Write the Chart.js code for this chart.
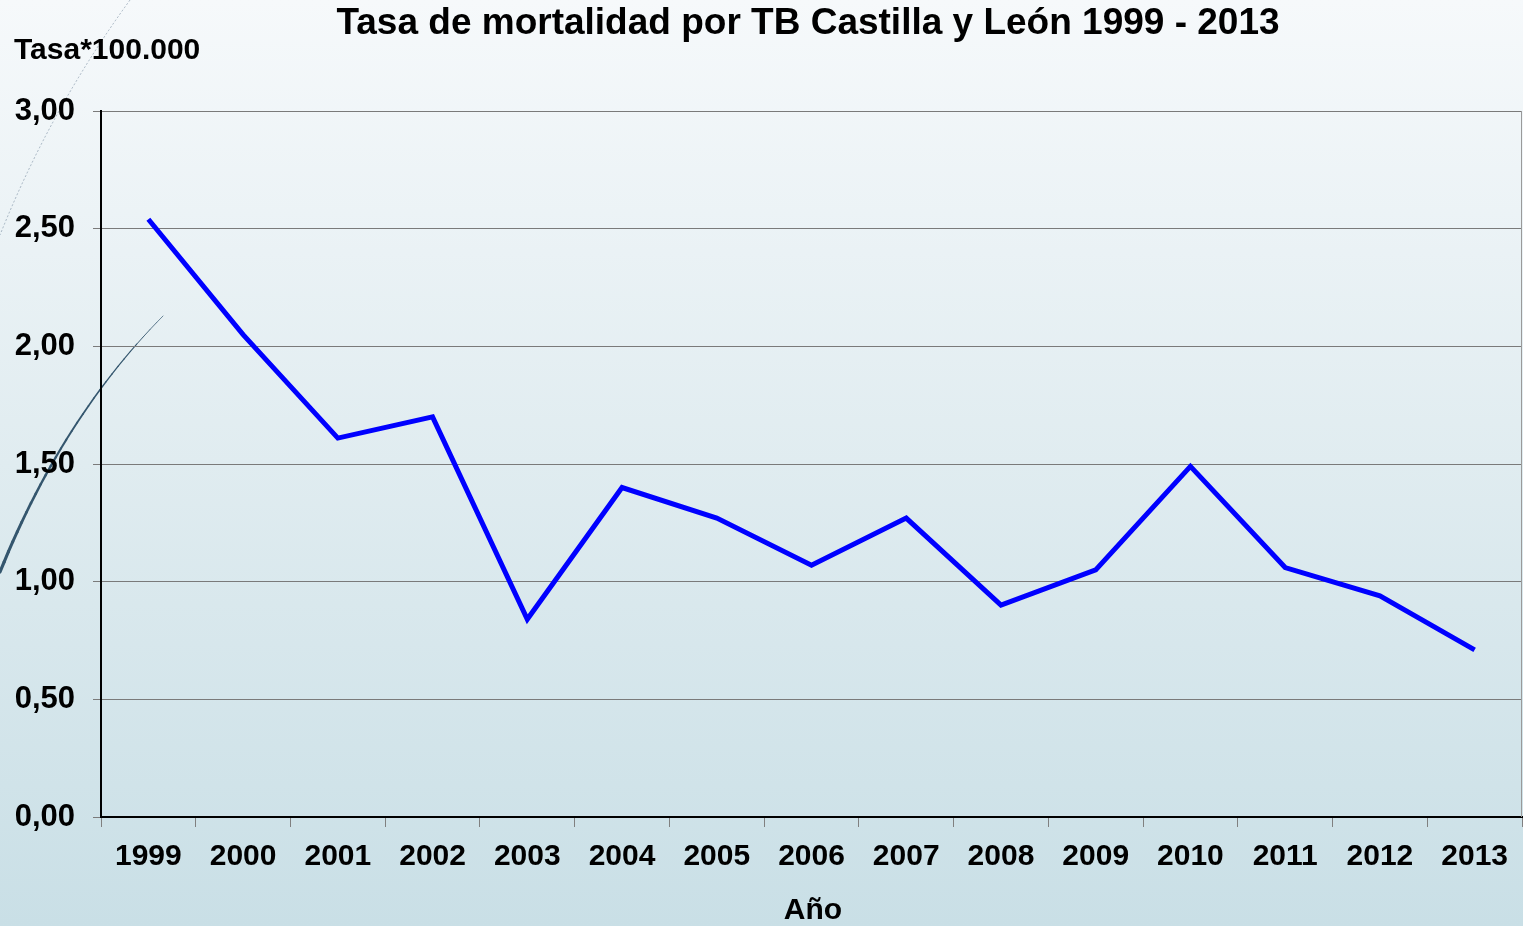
<!DOCTYPE html>
<html>
<head>
<meta charset="utf-8">
<script src="https://cdn.jsdelivr.net/npm/chart.js@4"></script>
<style>
  html, body { margin: 0; padding: 0; overflow: hidden; }
  #wrap { width: 1523px; height: 926px; }
</style>
</head>
<body>
<div id="wrap"><canvas id="tbChart" width="1523" height="926"></canvas></div>
<script>
// Data
const years = ['1999', '2000', '2001', '2002', '2003', '2004', '2005', '2006', '2007', '2008', '2009', '2010', '2011', '2012', '2013'];
const tasa = [2.54, 2.05, 1.61, 1.70, 0.84, 1.40, 1.27, 1.07, 1.27, 0.90, 1.05, 1.49, 1.06, 0.94, 0.71];
const yTicks = [0, 0.5, 1, 1.5, 2, 2.5, 3];

const chartTitle = 'Tasa de mortalidad por TB Castilla y León 1999 - 2013';
const yTitle = 'Tasa*100.000';
const xTitle = 'Año';

const FONT = '"Liberation Sans", Arial, sans-serif';

// background gradient, decorative swoosh and the free-floating texts
const decor = {
    id: 'decor',
    beforeDraw(chart) {
        const ctx = chart.ctx;
        const w = chart.width, h = chart.height;
        ctx.save();
        const g = ctx.createLinearGradient(0, 0, 0, h);
        g.addColorStop(0, '#f6f9fb');
        g.addColorStop(0.5, '#e0ecf0');
        g.addColorStop(1, '#c9dfe6');
        ctx.fillStyle = g;
        ctx.fillRect(0, 0, w, h);

        // faint dashed line top-left
        ctx.strokeStyle = 'rgba(120,140,160,0.6)';
        ctx.lineWidth = 1;
        ctx.setLineDash([2, 2]);
        ctx.beginPath();
        ctx.moveTo(130, 0);
        ctx.quadraticCurveTo(50, 110, 0, 235);
        ctx.stroke();
        ctx.setLineDash([]);

        // dark swoosh, tapering towards its upper end
        ctx.strokeStyle = '#34566e';
        ctx.lineCap = 'round';
        const p0 = [0, 572], p1 = [62, 418], p2 = [163, 316];
        const q = t => [
            (1 - t) * (1 - t) * p0[0] + 2 * (1 - t) * t * p1[0] + t * t * p2[0],
            (1 - t) * (1 - t) * p0[1] + 2 * (1 - t) * t * p1[1] + t * t * p2[1]
        ];
        const n = 30;
        for (let i = 0; i < n; i++) {
            const a = q(i / n), b = q((i + 1) / n);
            ctx.lineWidth = 3.2 - 2.6 * (i / n);
            ctx.beginPath();
            ctx.moveTo(a[0], a[1]);
            ctx.lineTo(b[0], b[1]);
            ctx.stroke();
        }
        ctx.restore();
    },
    afterDraw(chart) {
        const ctx = chart.ctx;
        const a = chart.chartArea;
        ctx.save();
        // right border of plot area
        ctx.strokeStyle = '#9a9a9a';
        ctx.lineWidth = 1;
        ctx.beginPath();
        ctx.moveTo(a.right - 0.5, a.top);
        ctx.lineTo(a.right - 0.5, a.bottom);
        ctx.stroke();

        ctx.fillStyle = '#000';
        ctx.textBaseline = 'middle';
        ctx.font = 'bold 37px ' + FONT;
        ctx.textAlign = 'center';
        ctx.fillText(chartTitle, 808, 24);

        ctx.font = 'bold 30px ' + FONT;
        ctx.textAlign = 'left';
        ctx.fillText(yTitle, 14, 51);

        ctx.textAlign = 'center';
        ctx.fillText(xTitle, 813, 911);
        ctx.restore();
    }
};

new Chart(document.getElementById('tbChart').getContext('2d'), {
    type: 'line',
    data: {
        labels: years,
        datasets: [{
            label: 'Tasa',
            data: tasa,
            borderColor: '#0000ff',
            borderWidth: 5,
            pointRadius: 0,
            tension: 0,
            fill: false
        }]
    },
    options: {
        responsive: false,
        animation: false,
        devicePixelRatio: 1,
        layout: { padding: { top: 111, right: 1, left: 0, bottom: 0 } },
        plugins: {
            legend: { display: false },
            tooltip: { enabled: false }
        },
        scales: {
            x: {
                offset: true,
                grid: {
                    offset: true,
                    drawOnChartArea: false,
                    drawTicks: true,
                    tickLength: 10,
                    color: '#808080'
                },
                border: { color: '#000', width: 2 },
                ticks: {
                    color: '#000',
                    padding: 12,
                    font: { family: FONT, size: 30, weight: 'bold' },
                    maxRotation: 0,
                    autoSkip: false
                },
                afterFit(scale) { scale.height = 109; }
            },
            y: {
                min: 0,
                max: 3,
                afterBuildTicks(scale) { scale.ticks = yTicks.map(v => ({ value: v })); },
                grid: {
                    color: '#7a7a7a',
                    tickLength: 8,
                    lineWidth: 1
                },
                border: { color: '#000', width: 2 },
                ticks: {
                    color: '#000',
                    padding: 18,
                    font: { family: FONT, size: 31, weight: 'bold' },
                    callback: v => v.toFixed(2).replace('.', ',')
                },
                afterFit(scale) { scale.width = 101; }
            }
        }
    },
    plugins: [decor]
});
</script>
</body>
</html>
